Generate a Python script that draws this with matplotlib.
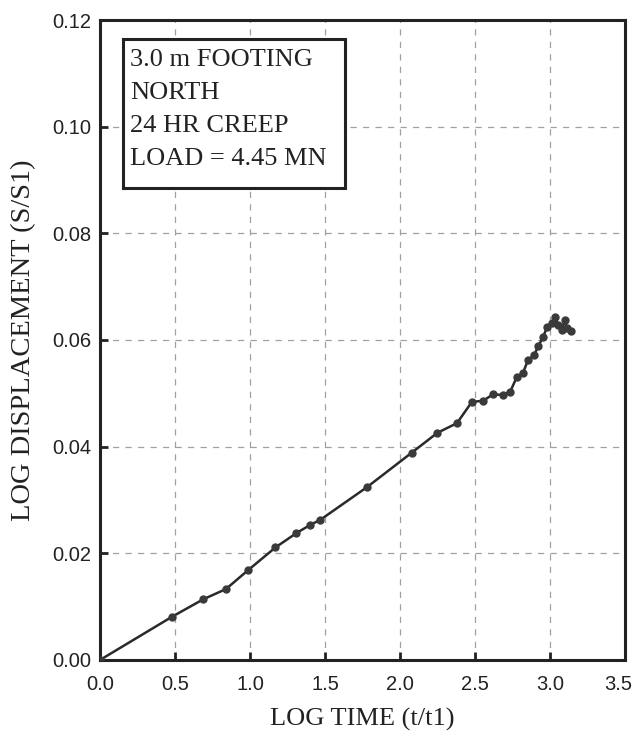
import matplotlib
matplotlib.use("Agg")
import matplotlib.pyplot as plt
from matplotlib.patches import Rectangle
from matplotlib.transforms import ScaledTranslation

log_time = [0.0, 0.48, 0.69, 0.84, 0.99, 1.17, 1.31, 1.40, 1.47, 1.78, 2.08, 2.25,
            2.38, 2.48, 2.555, 2.62, 2.685, 2.735, 2.78, 2.82, 2.855, 2.893, 2.922,
            2.955, 2.982, 3.011, 3.033, 3.056, 3.078, 3.10, 3.111, 3.138]
log_disp = [0.0, 0.0081, 0.0114, 0.0133, 0.0169, 0.0211, 0.0238, 0.0253, 0.0263, 0.0324,
            0.0389, 0.0426, 0.0444, 0.0484, 0.0486, 0.0498, 0.0497, 0.0503, 0.0531,
            0.0538, 0.0563, 0.0571, 0.0588, 0.0606, 0.0625, 0.0631, 0.0643, 0.0628,
            0.0619, 0.0638, 0.0622, 0.0616]

x_ticks = [0.0, 0.5, 1.0, 1.5, 2.0, 2.5, 3.0, 3.5]
y_ticks = [0.00, 0.02, 0.04, 0.06, 0.08, 0.10, 0.12]
info_text = "3.0 m FOOTING\nNORTH\n24 HR CREEP\nLOAD = 4.45 MN"

fig = plt.figure(figsize=(6.37, 7.36), dpi=100)
ax = fig.add_axes([0.157, 0.1033, 0.824, 0.8695])

ax.plot(log_time, log_disp, color="#2a2a2a", lw=1.8, marker="o", ms=5,
        markerfacecolor="#3a3a3a", markeredgecolor="#3a3a3a", zorder=3)

ax.set_xlim(0, 3.5)
ax.set_ylim(0, 0.12)
ax.set_xticks(x_ticks)
ax.set_yticks(y_ticks)
ax.set_xticklabels([f"{v:.1f}" for v in x_ticks], family="Liberation Sans", fontsize=14.5)
ax.set_yticklabels([f"{v:.2f}" for v in y_ticks], family="Liberation Sans", fontsize=14.5)
ax.tick_params(direction="in", length=6, width=2, colors="#222222")
ax.tick_params(axis="x", pad=11)
ax.tick_params(axis="y", pad=6)
ax.grid(True, color="#a0a0a0", ls=(0, (5, 5)), lw=0.9)

last = ax.get_xticklabels()[-1]
last.set_transform(last.get_transform() + ScaledTranslation(-5 / 72, 0, fig.dpi_scale_trans))

for s in ax.spines.values():
    s.set_linewidth(2.2)
    s.set_color("#222222")

ax.set_xlabel("LOG TIME (t/t1)", family="Liberation Serif", fontsize=19, labelpad=10, color="#222222")
ax.set_ylabel("LOG DISPLACEMENT (S/S1)", family="Liberation Serif", fontsize=20.5, labelpad=12, color="#222222")

box = Rectangle((0.0438, 0.7375), 0.4229, 0.2325, transform=ax.transAxes,
                facecolor="white", edgecolor="#222222", lw=2.2, zorder=5)
ax.add_patch(box)
ax.text(0.057, 0.955, info_text, transform=ax.transAxes, va="top", ha="left",
        family="Liberation Serif", fontsize=19, linespacing=1.65, color="#222222",
        zorder=6)

fig.savefig("out.png", dpi=100, facecolor="white")
